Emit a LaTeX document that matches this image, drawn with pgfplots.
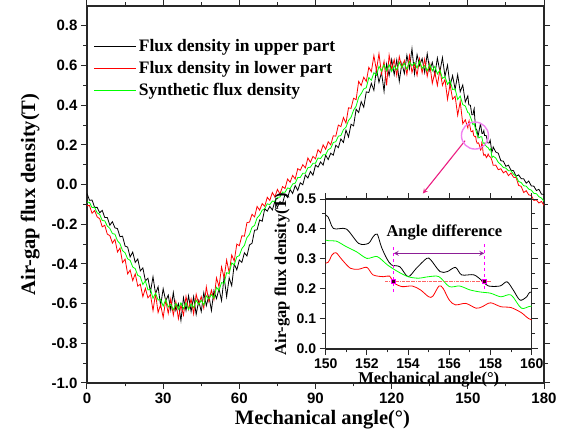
\documentclass[border=0pt]{standalone}
\usepackage{pgfplots}
\pgfplotsset{compat=1.18}
\usepackage{pgfplotstable}
\usetikzlibrary{calc}
\usepackage{fontspec}
\setmainfont{Liberation Serif}
\setsansfont{Liberation Sans}
\definecolor{cgreen}{RGB}{0,255,0}
\definecolor{cred}{RGB}{255,0,0}
\definecolor{cpink}{RGB}{235,30,130}
\definecolor{ccircle}{RGB}{240,130,240}
\definecolor{cpurple}{RGB}{140,30,150}
\definecolor{cmag}{RGB}{255,0,255}
\definecolor{cdash}{RGB}{255,100,100}
\definecolor{axgray}{RGB}{40,40,40}

\pgfplotstableread{
x y
0 -0.045
1 -0.079
2 -0.078
3 -0.115
4 -0.115
5 -0.142
6 -0.13
7 -0.166
8 -0.166
9 -0.205
10 -0.187
11 -0.218
12 -0.222
13 -0.263
14 -0.26
15 -0.31
16 -0.315
17 -0.365
18 -0.34
19 -0.392
20 -0.375
21 -0.435
22 -0.42
23 -0.485
24 -0.472
25 -0.54
26 -0.465
27 -0.55
28 -0.515
29 -0.61
30 -0.525
31 -0.586
32 -0.557
33 -0.633
34 -0.544
35 -0.635
36 -0.60
37 -0.685
38 -0.57
39 -0.635
40 -0.56
41 -0.64
42 -0.565
43 -0.655
44 -0.585
45 -0.64
46 -0.545
47 -0.61
48 -0.56
49 -0.635
50 -0.535
51 -0.575
52 -0.525
53 -0.585
54 -0.465
55 -0.565
56 -0.47
57 -0.51
58 -0.40
59 -0.43
60 -0.38
61 -0.392
62 -0.344
63 -0.36
64 -0.304
65 -0.296
66 -0.23
67 -0.228
68 -0.178
69 -0.185
70 -0.122
71 -0.134
72 -0.11
73 -0.128
74 -0.085
75 -0.114
76 -0.086
77 -0.095
78 -0.049
79 -0.065
80 -0.025
81 -0.045
82 -0.005
83 -0.029
84 0.009
85 -0.001
86 0.048
87 0.033
88 0.066
89 0.047
90 0.098
91 0.088
92 0.114
93 0.098
94 0.148
95 0.126
96 0.158
97 0.148
98 0.198
99 0.186
100 0.23
101 0.212
102 0.274
103 0.24
104 0.304
105 0.296
106 0.38
107 0.363
108 0.418
109 0.39
110 0.467
111 0.464
112 0.51
113 0.475
114 0.585
115 0.515
116 0.566
117 0.47
118 0.608
119 0.549
120 0.63
121 0.554
122 0.628
123 0.52
124 0.611
125 0.56
126 0.652
127 0.584
128 0.685
129 0.558
130 0.655
131 0.60
132 0.635
133 0.565
134 0.66
135 0.575
136 0.616
137 0.552
138 0.638
139 0.569
140 0.64
141 0.546
142 0.602
143 0.498
144 0.549
145 0.48
146 0.554
147 0.468
148 0.502
149 0.416
150.0 0.447
150.37 0.402
151.0 0.40
151.6 0.352
152.07 0.352
152.3 0.374
152.5 0.383
152.7 0.341
152.96 0.302
153.2 0.28
153.6 0.274
154.0 0.241
154.4 0.269
154.9 0.302
155.1 0.297
155.55 0.258
155.9 0.258
156.3 0.272
156.6 0.247
157.2 0.247
157.65 0.224
157.9 0.21
158.46 0.21
158.8 0.224
159.1 0.197
159.43 0.163
159.76 0.174
160.0 0.19
161 0.164
162 0.158
163 0.12
164 0.118
165 0.092
166 0.098
167 0.072
168 0.07
169 0.042
170 0.049
171 0.03
172 0.029
173 0.007
174 0.018
175 -0.007
176 -0.008
177 -0.03
178 -0.024
179 -0.048
180 -0.05
}\blk

\pgfplotstableread{
x y
0 -0.106
1 -0.106
2 -0.145
3 -0.131
4 -0.163
5 -0.172
6 -0.213
7 -0.205
8 -0.25
9 -0.257
10 -0.295
11 -0.276
12 -0.34
13 -0.32
14 -0.393
15 -0.376
16 -0.45
17 -0.431
18 -0.484
19 -0.45
20 -0.512
21 -0.502
22 -0.565
23 -0.523
24 -0.571
25 -0.555
26 -0.635
27 -0.55
28 -0.645
29 -0.605
30 -0.67
31 -0.582
32 -0.649
33 -0.576
34 -0.658
35 -0.59
36 -0.676
37 -0.607
38 -0.658
39 -0.564
40 -0.63
41 -0.576
42 -0.652
43 -0.553
44 -0.604
45 -0.565
46 -0.623
47 -0.516
48 -0.589
49 -0.532
50 -0.58
51 -0.47
52 -0.515
53 -0.415
54 -0.47
55 -0.38
56 -0.445
57 -0.355
58 -0.385
59 -0.30
60 -0.308
61 -0.258
62 -0.26
63 -0.192
64 -0.189
65 -0.15
66 -0.163
67 -0.11
68 -0.129
69 -0.096
70 -0.11
71 -0.064
72 -0.08
73 -0.04
74 -0.062
75 -0.024
76 -0.048
77 -0.01
78 -0.02
79 0.028
80 0.012
81 0.046
82 0.028
83 0.08
84 0.072
85 0.10
86 0.084
87 0.134
88 0.112
89 0.142
90 0.13
91 0.176
92 0.16
93 0.20
94 0.178
95 0.216
96 0.20
97 0.246
98 0.244
99 0.30
100 0.292
101 0.338
102 0.31
103 0.387
104 0.384
105 0.435
106 0.428
107 0.52
108 0.499
109 0.541
110 0.52
111 0.591
112 0.569
113 0.65
114 0.575
115 0.66
116 0.558
117 0.621
118 0.50
119 0.652
120 0.58
121 0.63
122 0.55
123 0.645
124 0.59
125 0.625
126 0.555
127 0.65
128 0.565
129 0.61
130 0.55
131 0.634
132 0.563
133 0.632
134 0.546
135 0.61
136 0.51
137 0.565
138 0.50
139 0.58
140 0.50
141 0.53
142 0.43
143 0.505
144 0.43
145 0.445
146 0.349
147 0.418
148 0.307
149 0.326
150.0 0.286
150.3 0.313
150.5 0.321
150.8 0.297
151.2 0.269
151.6 0.266
152.0 0.272
152.3 0.247
152.8 0.241
153.1 0.243
153.3 0.221
153.7 0.208
154.2 0.21
154.6 0.197
155.0 0.174
155.2 0.176
155.5 0.21
155.7 0.202
156.0 0.163
156.3 0.147
156.8 0.152
157.3 0.136
157.6 0.141
158.0 0.154
158.5 0.141
159.0 0.138
159.5 0.121
160.0 0.097
161 0.098
162 0.075
163 0.08
164 0.059
165 0.068
166 0.045
167 0.058
168 0.037
169 0.035
170 -0.004
171 -0.009
172 -0.04
173 -0.031
174 -0.052
175 -0.055
176 -0.08
177 -0.077
178 -0.093
179 -0.085
180 -0.105
}\red

\pgfplotstableread{
x y
0 -0.088
1 -0.090
2 -0.116
3 -0.115
4 -0.143
5 -0.150
6 -0.181
7 -0.183
8 -0.209
9 -0.221
10 -0.247
11 -0.250
12 -0.283
13 -0.298
14 -0.333
15 -0.344
16 -0.374
17 -0.382
18 -0.415
19 -0.424
20 -0.458
21 -0.464
22 -0.504
23 -0.485
24 -0.531
25 -0.528
26 -0.573
27 -0.547
28 -0.582
29 -0.578
30 -0.613
31 -0.579
32 -0.617
33 -0.603
34 -0.631
35 -0.599
36 -0.628
37 -0.596
38 -0.626
39 -0.596
40 -0.63
41 -0.602
42 -0.62
43 -0.582
44 -0.605
45 -0.583
46 -0.607
47 -0.56
48 -0.576
49 -0.554
50 -0.573
51 -0.518
52 -0.534
53 -0.494
54 -0.498
55 -0.444
56 -0.448
57 -0.395
58 -0.405
59 -0.364
60 -0.358
61 -0.323
62 -0.306
63 -0.267
64 -0.251
65 -0.215
66 -0.206
67 -0.168
68 -0.154
69 -0.129
70 -0.122
71 -0.097
72 -0.101
73 -0.083
74 -0.086
75 -0.064
76 -0.063
77 -0.038
78 -0.039
79 -0.017
80 -0.021
81 0.003
82 0.007
83 0.035
84 0.036
85 0.057
86 0.057
87 0.085
88 0.088
89 0.107
90 0.108
91 0.134
92 0.131
93 0.15
94 0.151
95 0.176
96 0.183
97 0.212
98 0.216
99 0.244
100 0.247
101 0.277
102 0.289
103 0.323
104 0.339
105 0.375
106 0.395
107 0.44
108 0.458
109 0.482
110 0.488
111 0.539
112 0.526
113 0.564
114 0.55
115 0.596
116 0.572
117 0.604
118 0.574
119 0.604
120 0.57
121 0.598
122 0.578
123 0.616
124 0.59
125 0.612
126 0.581
127 0.62
128 0.599
129 0.614
130 0.587
131 0.622
132 0.585
133 0.60
134 0.573
135 0.606
136 0.573
137 0.596
138 0.557
139 0.578
140 0.535
141 0.544
142 0.505
143 0.524
144 0.479
145 0.482
146 0.429
147 0.446
148 0.403
149 0.396
150.0 0.363
150.5 0.36
151.0 0.341
151.5 0.324
152.0 0.302
152.5 0.308
153.0 0.28
153.5 0.258
154.0 0.241
154.5 0.236
155.0 0.241
155.5 0.241
156.0 0.208
156.5 0.21
157.0 0.197
157.5 0.19
158.0 0.186
158.5 0.174
159.0 0.18
159.5 0.136
160.0 0.143
161 0.134
162 0.112
163 0.101
164 0.086
165 0.083
166 0.07
167 0.07
168 0.052
169 0.042
170 0.016
171 0.01
172 -0.006
173 -0.008
174 -0.023
175 -0.028
176 -0.044
177 -0.046
178 -0.061
179 -0.068
180 -0.084
}\grn

\pgfplotsset{
  myax/.style={
    scale only axis,
    tick align=outside,
    axis line style={line width=1.2pt, axgray},
    tick style={line width=1pt, axgray},
    major tick length=6pt,
    minor tick length=3.5pt,
    /pgf/number format/assume math mode=true,
  }
}

\begin{document}
\begin{tikzpicture}
\begin{axis}[myax,
  width=457pt, height=377pt,
  xmin=0, xmax=180, ymin=-1, ymax=0.9,
  xtick={0,30,60,90,120,150,180},
  minor x tick num=1,
  ytick={-1,-0.8,-0.6,-0.4,-0.2,0,0.2,0.4,0.6,0.8},
  minor y tick num=1,
  yticklabel style={/pgf/number format/.cd, fixed, fixed zerofill, precision=1},
  tick label style={font=\fontsize{15}{15}\selectfont\sffamily\bfseries},
  xlabel={Mechanical angle(°)},
  ylabel={Air-gap flux density(T)},
  label style={font=\fontsize{20.5}{22}\selectfont\bfseries},
  ylabel style={yshift=5pt},
  xlabel style={xshift=7pt},
  legend style={draw=none, fill=none, at={(0.015,0.9164)}, anchor=north west,
    font=\fontsize{17.5}{20}\selectfont\bfseries, inner sep=0pt, row sep=4pt},
  legend cell align=left,
  legend image code/.code={\draw[#1] (0pt,0pt) -- (42pt,0pt);},
]
\addplot[black, line width=0.8pt] table {\blk};
\addlegendentry{Flux density in upper part}
\addplot[cred, line width=0.8pt] table {\red};
\addlegendentry{Flux density in lower part}
\addplot[cgreen, line width=0.8pt] table {\grn};
\addlegendentry{Synthetic flux density}
\addplot[only marks, mark=o, mark size=13.5pt, mark options={ccircle, line width=1.4pt}, forget plot] coordinates {(152.8,0.247)};
\addplot[cpink, line width=1.1pt, -stealth, forget plot] coordinates {(148.9,0.221) (132.3,-0.045)};
\coordinate (O) at (rel axis cs:0,0);
\end{axis}

\begin{axis}[myax,
  at={($(O)+(238.7pt,34pt)$)}, anchor=south west,
  width=206pt, height=150pt,
  xmin=150, xmax=160, ymin=0, ymax=0.5,
  xtick={150,152,154,156,158,160},
  minor x tick num=1,
  ytick={0,0.1,0.2,0.3,0.4,0.5},
  minor y tick num=1,
  axis background/.style={fill=white},
  yticklabel style={/pgf/number format/.cd, fixed, fixed zerofill, precision=1},
  tick label style={font=\fontsize{14}{14}\selectfont\sffamily\bfseries},
  xlabel={Mechanical angle(°)},
  ylabel={Air-gap flux density(T)},
  xlabel style={yshift=3pt},
  label style={font=\fontsize{16.5}{18}\selectfont\bfseries},
]
\addplot[black, line width=0.8pt, smooth, restrict x to domain=149:161] table {\blk};
\addplot[cgreen, line width=0.8pt, smooth, restrict x to domain=149:161] table {\grn};
\addplot[cred, line width=0.8pt, smooth, restrict x to domain=149:161] table {\red};
\addplot[cmag, dashed, line width=0.8pt] coordinates {(153.3,0.19) (153.3,0.35)};
\addplot[cmag, dashed, line width=0.8pt] coordinates {(157.7,0.20) (157.7,0.35)};
\addplot[cdash, densely dash dot, line width=1pt] coordinates {(152.9,0.225) (158.05,0.225)};
\addplot[cpurple, line width=1.2pt, stealth-stealth] coordinates {(153.3,0.319) (157.7,0.319)};
\addplot[only marks, mark=square*, mark size=2pt, mark options={fill=black!70!purple, draw=cmag, line width=0.6pt}] coordinates {(153.3,0.225) (157.7,0.225)};
\node[font=\fontsize{16.5}{18}\selectfont\bfseries] at (axis cs:155.76,0.388) {Angle difference};
\end{axis}
\pgfresetboundingbox
\path[use as bounding box] ($(O)+(-87pt,-55pt)$) rectangle ++(562pt,438pt);
\end{tikzpicture}
\end{document}
